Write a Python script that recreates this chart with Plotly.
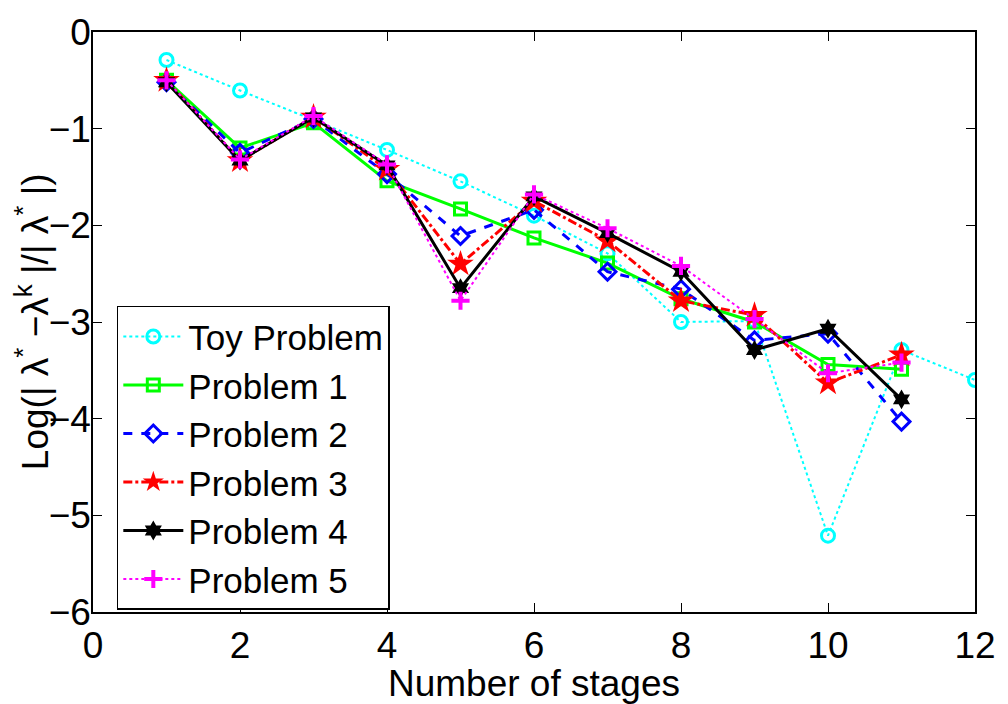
import plotly.graph_objects as go

stages_toy = [1, 2, 3, 4, 5, 6, 7, 8, 9, 10, 11, 12]
stages = [1, 2, 3, 4, 5, 6, 7, 8, 9, 10, 11]

toy = [-0.29, -0.605, -0.91, -1.22, -1.545, -1.90, -2.29, -3.00, -2.99, -5.21, -3.29, -3.60]
p1 = [-0.50, -1.20, -0.94, -1.54, -1.83, -2.13, -2.39, -2.76, -3.00, -3.44, -3.49]
p2 = [-0.52, -1.25, -0.90, -1.47, -2.11, -1.84, -2.48, -2.66, -3.19, -3.12, -4.03]
p3 = [-0.50, -1.33, -0.88, -1.42, -2.40, -1.75, -2.16, -2.78, -2.93, -3.63, -3.34]
p4 = [-0.52, -1.33, -0.885, -1.38, -2.65, -1.70, -2.08, -2.48, -3.29, -3.07, -3.80]
p5 = [-0.50, -1.32, -0.87, -1.37, -2.78, -1.68, -2.03, -2.42, -2.97, -3.53, -3.42]

names = ["Toy Problem", "Problem 1", "Problem 2", "Problem 3", "Problem 4", "Problem 5"]
y_title = "Log(| λ<sup>*</sup> −λ<sup>k</sup> |/| λ<sup>*</sup> |)"
x_title = "Number of stages"

FONT = "Liberation Sans, Arial, sans-serif"
FS = 37

fig = go.Figure()
fig.add_trace(go.Scatter(x=stages_toy, y=toy, name=names[0], mode="lines+markers",
                         line=dict(color="#00FFFF", width=2, dash="dot"),
                         marker=dict(symbol="circle-open", size=13, color="#00FFFF", line=dict(width=3))))
fig.add_trace(go.Scatter(x=stages, y=p1, name=names[1], mode="lines+markers",
                         line=dict(color="#00FF00", width=3, dash="solid"),
                         marker=dict(symbol="square-open", size=12, color="#00FF00", line=dict(width=3))))
fig.add_trace(go.Scatter(x=stages, y=p2, name=names[2], mode="lines+markers",
                         line=dict(color="#0000FF", width=3, dash="dash"),
                         marker=dict(symbol="diamond-open", size=13, color="#0000FF", line=dict(width=3))))
fig.add_trace(go.Scatter(x=stages, y=p3, name=names[3], mode="lines+markers",
                         line=dict(color="#FF0000", width=3, dash="dashdot"),
                         marker=dict(symbol="star", size=20, color="#FF0000")))
fig.add_trace(go.Scatter(x=stages, y=p4, name=names[4], mode="lines+markers",
                         line=dict(color="#000000", width=3, dash="solid"),
                         marker=dict(symbol="hexagram", size=15, color="#000000")))
fig.add_trace(go.Scatter(x=stages, y=p5, name=names[5], mode="lines+markers",
                         line=dict(color="#FF00FF", width=2, dash="dot"),
                         marker=dict(symbol="cross-thin", size=13, color="#FF00FF", line=dict(width=4, color="#FF00FF"))))

axis_common = dict(showgrid=False, zeroline=False, showline=True, linecolor="black", linewidth=1.5,
                   mirror="ticks", ticks="inside", ticklen=9, tickwidth=1, tickcolor="black",
                   tickfont=dict(family=FONT, size=FS, color="black"))

fig.update_layout(
    width=1008, height=704,
    margin=dict(l=93, r=26, t=22, b=89),
    plot_bgcolor="white", paper_bgcolor="white",
    font=dict(family=FONT, size=FS, color="black"),
    xaxis=dict(range=[0, 12], dtick=2, tick0=0,
               title=dict(text=x_title, font=dict(family=FONT, size=FS), standoff=0),
               **axis_common),
    yaxis=dict(range=[-6, 0], dtick=1, tick0=0, ticklabelstandoff=-7, **axis_common),
    legend=dict(x=0.027, y=0.528, xanchor="left", yanchor="top",
                bgcolor="white", bordercolor="black", borderwidth=1.5,
                font=dict(family=FONT, size=35), itemwidth=60, tracegroupgap=0),
    showlegend=True,
    annotations=[dict(text=y_title, xref="paper", yref="paper", x=-0.069, y=0.5,
                      xanchor="center", yanchor="middle", textangle=-90, showarrow=False,
                      font=dict(family=FONT, size=FS, color="black"))],
)

fig.write_html("out.html")
